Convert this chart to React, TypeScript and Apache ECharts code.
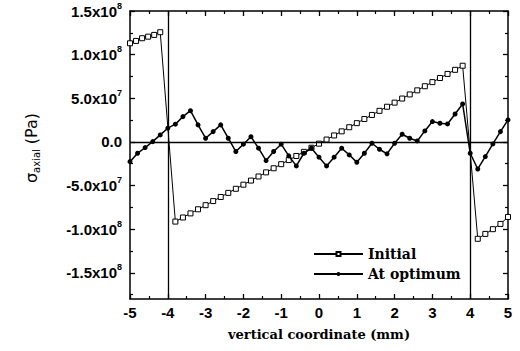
import React, { useEffect, useRef } from "react";
import * as echarts from "echarts";

// x positions (mm) and stresses (units of 1e8 Pa)
const initialX = [
  -5, -4.84, -4.68, -4.52, -4.36, -4.2,
  -3.8, -3.6, -3.4, -3.2, -3.0, -2.8, -2.6, -2.4, -2.2, -2.0,
  -1.8, -1.6, -1.4, -1.2, -1.0, -0.8, -0.6, -0.4, -0.2, 0.0,
  0.2, 0.4, 0.6, 0.8, 1.0, 1.2, 1.4, 1.6, 1.8, 2.0,
  2.2, 2.4, 2.6, 2.8, 3.0, 3.2, 3.4, 3.6, 3.8,
  4.2, 4.4, 4.6, 4.8, 5.0,
];
const initialY = [
  1.13, 1.157, 1.188, 1.206, 1.226, 1.257,
  -0.913, -0.866, -0.819, -0.772, -0.725, -0.678, -0.631, -0.584, -0.537, -0.49,
  -0.443, -0.396, -0.349, -0.302, -0.255, -0.208, -0.161, -0.114, -0.067, -0.02,
  0.027, 0.074, 0.121, 0.168, 0.215, 0.262, 0.309, 0.356, 0.403, 0.45,
  0.497, 0.544, 0.591, 0.638, 0.685, 0.732, 0.779, 0.826, 0.873,
  -1.11, -1.054, -1.0, -0.94, -0.86,
];

const optimumX = [
  -5.0, -4.8, -4.6, -4.4, -4.2, -4.0, -3.8, -3.6, -3.4, -3.2,
  -3.0, -2.8, -2.6, -2.4, -2.2, -2.0, -1.8, -1.6, -1.4, -1.2,
  -1.0, -0.8, -0.6, -0.4, -0.2, 0.0, 0.2, 0.4, 0.6, 0.8,
  1.0, 1.2, 1.4, 1.6, 1.8, 2.0, 2.2, 2.4, 2.6, 2.8,
  3.0, 3.2, 3.4, 3.6, 3.8, 4.0, 4.2, 4.4, 4.6, 4.8, 5.0,
];
const optimumY = [
  -0.226, -0.13, -0.065, 0.003, 0.08, 0.157, 0.203, 0.29, 0.358, 0.195,
  0.042, 0.118, 0.195, 0.042, -0.11, -0.026, 0.06, -0.072, -0.214, -0.11,
  -0.026, -0.16, -0.275, -0.13, -0.072, -0.175, -0.275, -0.175, -0.072, -0.149,
  -0.233, -0.13, -0.015, -0.084, -0.137, -0.015, 0.088, 0.042, 0.011, 0.126,
  0.233, 0.214, 0.206, 0.32, 0.435, -0.13, -0.31, -0.168, -0.023, 0.118, 0.252,
];

const seriesNames = ["Initial", "At optimum"];
const boundaryX = [-4, 4];

const yTickValues = [-1.5, -1.0, -0.5, 0, 0.5, 1.0, 1.5];
const yMinorValues = [-1.75, -1.25, -0.75, -0.25, 0.25, 0.75, 1.25];
const yLabelMantissa = ["-1.5x10", "-1.0x10", "-5.0x10", "0.0", "5.0x10", "1.0x10", "1.5x10"];
const yLabelExponent = ["8", "8", "7", "", "7", "8", "8"];

const xLabel = "vertical coordinate (mm)";

const FONT = "Liberation Sans";
const SERIF = "DejaVu Serif";

export default function App() {
  const ref = useRef<HTMLDivElement>(null);
  useEffect(() => {
    if (!ref.current) return;
    const chart = echarts.init(ref.current, null, { renderer: "svg" });

    const yFormatter = (v: number) => {
      const i = yTickValues.findIndex((t) => Math.abs(t - v) < 1e-9);
      if (i < 0) return "";
      const e = yLabelExponent[i];
      return e ? `{m|${yLabelMantissa[i]}}{e|${e}}` : `{m|${yLabelMantissa[i]}}`;
    };

    const black = "#000";
    const yBase: any = {
      type: "value",
      min: -1.8,
      max: 1.5,
      splitLine: { show: false },
    };
    const xBase: any = {
      type: "value",
      min: -5,
      max: 5,
      interval: 1,
      splitLine: { show: false },
    };

    chart.setOption({
      animation: false,
      backgroundColor: "#fff",
      grid: { left: 130, right: 12, top: 11, bottom: 52 },
      xAxis: [
        {
          ...xBase,
          position: "bottom",
          axisLine: { show: true, onZero: false, lineStyle: { color: black, width: 1.5 } },
          axisTick: { show: true, inside: true, length: 5, lineStyle: { color: black, width: 1.3 } },
          minorTick: { show: true, splitNumber: 2, length: 3, lineStyle: { color: black, width: 1.2 } },
          axisLabel: {
            show: true,
            margin: 6,
            color: black,
            fontFamily: FONT,
            fontWeight: "bold",
            fontSize: 15,
          },
        },
        {
          ...xBase,
          position: "top",
          axisLine: { show: true, onZero: false, lineStyle: { color: black, width: 1.5 } },
          axisTick: { show: true, inside: true, length: 5, lineStyle: { color: black, width: 1.3 } },
          minorTick: { show: true, splitNumber: 2, length: 3, lineStyle: { color: black, width: 1.2 } },
          axisLabel: { show: false },
        },
      ],
      yAxis: [
        {
          ...yBase,
          position: "left",
          axisLine: { show: true, onZero: false, lineStyle: { color: black, width: 1.5 } },
          axisTick: {
            show: true,
            inside: true,
            length: 5,
            customValues: yTickValues,
            lineStyle: { color: black, width: 1.3 },
          },
          axisLabel: {
            show: true,
            customValues: yTickValues,
            margin: 8,
            formatter: yFormatter,
            rich: {
              m: { fontFamily: FONT, fontWeight: "bold", fontSize: 15, lineHeight: 20, color: black },
              e: { fontFamily: FONT, fontWeight: "bold", fontSize: 9, lineHeight: 9, verticalAlign: "top", color: black },
            },
          },
        },
        {
          ...yBase,
          position: "left",
          axisLine: { show: false, onZero: false },
          axisTick: {
            show: true,
            inside: true,
            length: 3,
            customValues: yMinorValues,
            lineStyle: { color: black, width: 1.2 },
          },
          axisLabel: { show: false },
        },
        {
          ...yBase,
          position: "right",
          axisLine: { show: true, onZero: false, lineStyle: { color: black, width: 1.5 } },
          axisTick: {
            show: true,
            inside: true,
            length: 5,
            customValues: yTickValues,
            lineStyle: { color: black, width: 1.3 },
          },
          axisLabel: { show: false },
        },
        {
          ...yBase,
          position: "right",
          axisLine: { show: false, onZero: false },
          axisTick: {
            show: true,
            inside: true,
            length: 3,
            customValues: yMinorValues,
            lineStyle: { color: black, width: 1.2 },
          },
          axisLabel: { show: false },
        },
      ],
      legend: {
        show: true,
        orient: "vertical",
        left: 308,
        top: 242,
        itemWidth: 49,
        itemHeight: 5,
        itemGap: 6,
        data: seriesNames,
        textStyle: { fontFamily: SERIF, fontWeight: "bold", fontSize: 14, color: black },
      },
      series: [
        {
          name: seriesNames[0],
          type: "line",
          xAxisIndex: 0,
          yAxisIndex: 0,
          data: initialX.map((x, i) => [x, initialY[i]]),
          symbol: "rect",
          symbolSize: 5,
          showSymbol: true,
          lineStyle: { color: black, width: 1 },
          itemStyle: { color: "#fff", borderColor: black, borderWidth: 1 },
          z: 3,
        },
        {
          name: seriesNames[1],
          type: "line",
          xAxisIndex: 0,
          yAxisIndex: 0,
          data: optimumX.map((x, i) => [x, optimumY[i]]),
          symbol: "circle",
          symbolSize: 5,
          showSymbol: true,
          lineStyle: { color: black, width: 1.5 },
          itemStyle: { color: black, borderColor: black, borderWidth: 0 },
          z: 4,
          markLine: {
            silent: true,
            symbol: ["none", "none"],
            label: { show: false },
            lineStyle: { color: black, width: 1.3, type: "solid" },
            data: [
              { xAxis: boundaryX[0] },
              { xAxis: boundaryX[1] },
              { yAxis: 0 },
            ],
          },
        },
      ],
      graphic: [
        {
          type: "text",
          x: 319,
          y: 334,
          style: {
            text: xLabel,
            fontFamily: SERIF,
            fontWeight: "bold",
            fontSize: 13,
            fill: black,
            align: "center",
            verticalAlign: "middle",
          },
        },
        {
          type: "text",
          x: 31,
          y: 148,
          rotation: Math.PI / 2,
          style: {
            text: "{a|σ}{s|axial}{a| (Pa)}",
            align: "center",
            verticalAlign: "middle",
            rich: {
              a: { fontFamily: "DejaVu Sans", fontSize: 16, lineHeight: 20, fill: black },
              s: { fontFamily: "DejaVu Sans", fontSize: 10, lineHeight: 10, verticalAlign: "bottom", fill: black },
            },
          },
        },
      ],
    });
    return () => chart.dispose();
  }, []);
  return <div ref={ref} style={{ width: 520, height: 351, position: "absolute", left: 0, top: 0 }} />;
}
